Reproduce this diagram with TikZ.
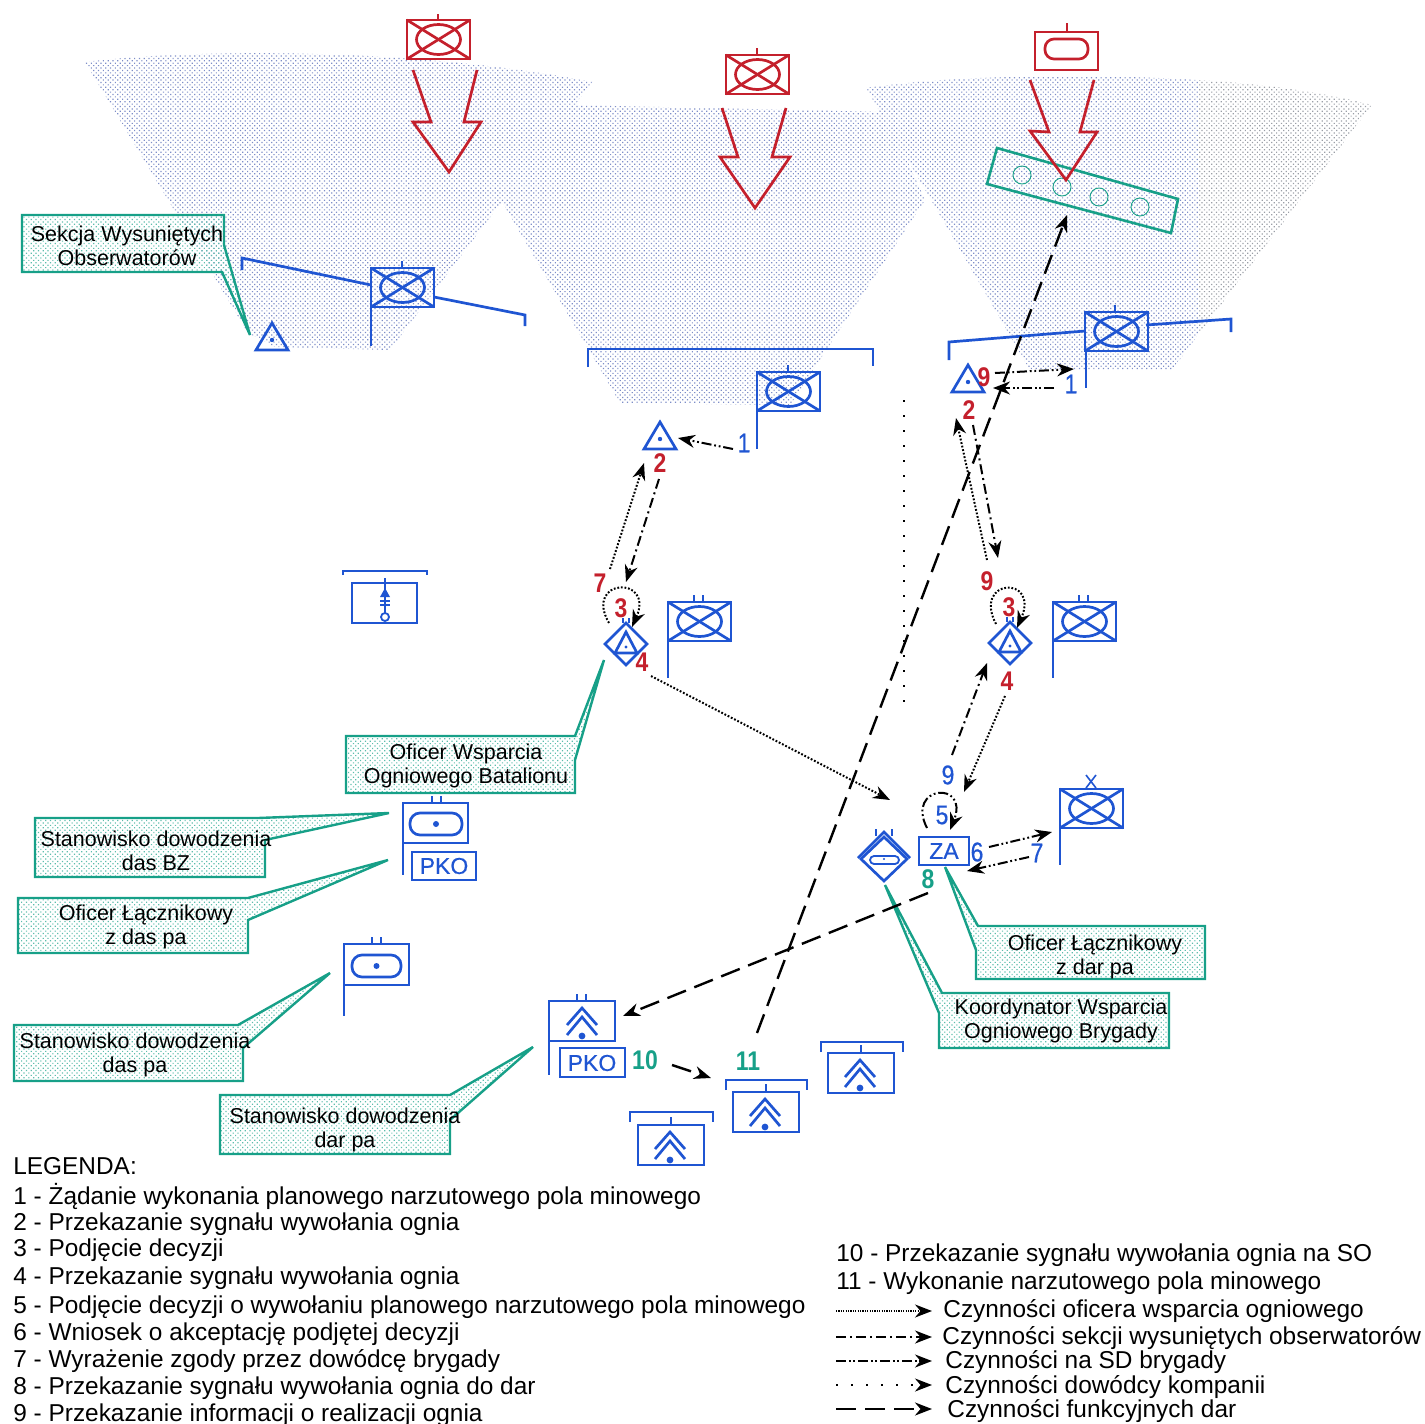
\documentclass[tikz,border=0pt]{standalone}
\usepackage{fontspec}
\setmainfont{Liberation Sans}
\newfontfamily\blueface[FakeBold=0.6]{Liberation Sans}
\usepackage{tikz}
\usetikzlibrary{arrows.meta,patterns.meta,positioning}

\definecolor{SymBlue}{HTML}{1F55D2}
\definecolor{SymRed}{HTML}{C4202C}
\definecolor{SymTeal}{HTML}{17A088}
\definecolor{ShadeBlue}{HTML}{7E8EC8}
\definecolor{ShadeGray}{HTML}{9A9EA6}

% box with the crossed ellipse
\newcommand{\TankBox}[2]{
	\draw (#1,#2) rectangle +(63,39);
	\draw (#1,#2) -- +(63,39);
	\draw (#1,#2) ++(63,0) -- +(-63,39);
	\draw (#1,#2) ++(31.5,19.5) ellipse [x radius=22, y radius=15];
}
% two short stems on top of a box
\newcommand{\TwoStem}[2]{
	\draw (#1,#2) -- +(0,-7);
	\draw (#1,#2) ++(9,0) -- +(0,-7);
}
\newcommand{\OvalDot}[4]{
	\draw [rounded corners=10*0.5pt] (#1,#2) rectangle (#3,#4);
	\fill ({(#1+#3)/2},{(#2+#4)/2}) circle [radius=3];
}
\newcommand{\ObsTri}[2]{
	\draw (#1,#2) -- +(16,27) -- +(-16,27) -- cycle;
	\fill (#1,#2) ++(0,17) circle [radius=2.2];
}
\newcommand{\ObsDia}[2]{
	\draw (#1,#2) ++(0,-21) -- ++(21,21) -- ++(-21,21) -- ++(-21,-21) -- cycle;
	\draw (#1,#2) ++(0,-12) -- +(11,21) -- +(-11,21) -- cycle;
	\fill (#1,#2) ++(0,3) circle [radius=1.6];
	\draw (#1,#2) ++(-3,-21) -- +(0,-5);
	\draw (#1,#2) ++(3,-21) -- +(0,-5);
}
\newcommand{\Chevrons}[2]{
	\draw (#1,#2) ++(-15,24) -- +(15,-17) -- +(30,0);
	\draw (#1,#2) ++(-15,34) -- +(15,-18) -- +(30,0);
	\fill (#1,#2) ++(0,35) circle [radius=3.4];
}
\newcommand{\GunBox}[3]{
	\draw (#1,#2) rectangle +(66,40);
	\Chevrons{#3}{#2}
}

\begin{document}
\begin{tikzpicture}[x=0.5pt, y=-0.5pt]
		\tikzstyle{Sym}		= [color=SymBlue, line width=1.35pt]
		\tikzstyle{Foe}		= [color=SymRed, line width=1.35pt]
		\tikzstyle{Call}	= [draw=SymTeal, line width=1.2pt, pattern={Dots[distance=1.7pt, radius=0.42pt, angle=45]}, pattern color=SymTeal!70]
		\tikzstyle{CallTxt}	= [align=center, inner sep=0pt, font=\fontsize{10.75}{12.2}\selectfont]
		\tikzstyle{Num}		= [inner sep=0pt, font=\fontsize{13.5}{14}\selectfont, xscale=0.85, transform shape]
		\tikzstyle{RedNum}	= [Num, text=SymRed, font=\fontsize{13.5}{14}\selectfont\bfseries]
		\tikzstyle{BlueNum}	= [Num, text=SymBlue, font=\fontsize{13.5}{14}\selectfont\blueface]
		\tikzstyle{TealNum}	= [Num, text=SymTeal, font=\fontsize{13.5}{14}\selectfont\bfseries]
		\tikzstyle{Leg}		= [anchor=west, inner sep=0pt, yshift=-1pt, text height=9pt, text depth=3pt, font=\fontsize{12.2}{13}\selectfont]
		\tikzstyle{Tag}		= [inner sep=0pt, text=SymBlue, font=\fontsize{11.5}{12}\selectfont\blueface]
		\tikzstyle{Act}		= [line width=1pt, -{Stealth[length=8.5pt, width=6.5pt]}]
		\tikzstyle{OW}		= [Act, dash pattern=on 0.9pt off 0.9pt]
		\tikzstyle{SO}		= [Act, dash pattern=on 5pt off 2pt on 1pt off 2pt]
		\tikzstyle{SD}		= [Act, dash pattern=on 5pt off 1.4pt on 0.9pt off 1.4pt on 0.9pt off 1.4pt]
		\tikzstyle{DK}		= [Act, line width=1pt, dash pattern=on 1pt off 6.5pt]
		\tikzstyle{DF}		= [Act, line width=1.2pt, dash pattern=on 10pt off 4.5pt]

		\useasboundingbox (0,0) rectangle (1425,1424);

		% shaded sectors
		\fill [pattern={Dots[distance=1.7pt, radius=0.42pt, angle=45]}, pattern color=ShadeBlue]
			(85,62) .. controls (200,48) and (420,48) .. (592,82) -- (390,350) -- (275,347) -- (248,333) -- cycle
			(505,207) -- (500,200) -- (570,105) -- (885,112) -- (925,200) -- (790,405) -- (620,403) -- cycle
			(866,88) .. controls (960,74) and (1100,74) .. (1198,80) -- (1198,335) -- (1172,370) -- (1030,370) -- cycle;
		\fill [pattern={Dots[distance=1.7pt, radius=0.42pt, angle=45]}, pattern color=ShadeGray]
			(1198,80) .. controls (1270,84) and (1330,94) .. (1372,105) -- (1198,335) -- cycle;

		% red units
		\begin{scope}[Foe]
			\TankBox{407}{20}
			\draw (438,20) -- (438,14);
			\draw (413,70) -- (431,122) -- (413,122) -- (449,172) -- (481,122) -- (464,122) -- (477,70);
			\TankBox{726}{55}
			\draw (757,55) -- (757,48);
			\draw (722,108) -- (738,157) -- (720,157) -- (755,208) -- (790,157) -- (772,157) -- (786,108);
			\draw (1035,32) rectangle (1098,70);
			\draw (1067,32) -- (1067,23);
			\draw [rounded corners=4.5pt] (1045,39) rectangle (1088,59);
		\end{scope}

		% minefield
		\begin{scope}[color=SymTeal]
			\draw [line width=1.3pt] (997,148) -- (1178,199) -- (1171,233) -- (987,184) -- cycle;
			\draw [line width=0.45pt] (1022,175) circle [radius=9];
			\draw [line width=0.45pt] (1062,187) circle [radius=9];
			\draw [line width=0.45pt] (1099,197) circle [radius=9];
			\draw [line width=0.45pt] (1140,207) circle [radius=9];
		\end{scope}
		\draw [Foe] (1030,80) -- (1049,132) -- (1030,131) -- (1066,180) -- (1097,132) -- (1080,132) -- (1094,80);

		% blue units
		\begin{scope}[Sym]
			\TankBox{371}{268}
			\draw (402,268) -- (402,261);
			\draw (371,307) -- (371,346);
			\draw (242,270) -- (242,258) -- (371,285);
			\draw (434,297) -- (525,315) -- (525,326);

			\TankBox{757}{372}
			\draw (788,372) -- (788,365);
			\draw (757,411) -- (757,449);
			\draw (588,367) -- (588,349) -- (873,349) -- (873,366);

			\TankBox{1085}{312}
			\draw (1115,312) -- (1115,305);
			\draw (1086,351) -- (1086,388);
			\draw (949,360) -- (949,342) -- (1085,331);
			\draw (1146,325) -- (1231,319) -- (1231,332);

			\TankBox{668}{602}
			\TwoStem{694}{602}
			\draw (668,641) -- (668,678);
			\TankBox{1053}{602}
			\TwoStem{1079}{602}
			\draw (1053,641) -- (1053,678);
			\TankBox{1060}{789}
			\draw (1060,828) -- (1060,865);
			\draw [line width=0.8pt] (1086,775) -- (1096,788) (1096,775) -- (1086,788);

			\ObsTri{272}{323}
			\ObsTri{660}{422}
			\ObsTri{968}{365}
			\ObsDia{626}{644}
			\ObsDia{1010}{643}

			% brigade fire support post
			\draw (884,837) -- (907,859) -- (884,881) -- (861,859) -- cycle;
			\draw (858,858) -- (884,832) -- (910,858);
			\draw [line width=0.9pt] (876,829) -- (876,836) (892,829) -- (892,836);
			\draw [line width=0.9pt, rounded corners=2pt] (870,856) rectangle (899,864);
			\fill (884,859) circle [radius=1.2];
			\draw (919,837) rectangle (969,865);

			% command posts
			\draw (403,803) rectangle (468,843);
			\TwoStem{432}{803}
			\draw (403,843) -- (403,875);
			\OvalDot{410}{813}{462}{835}
			\draw (412,852) rectangle (476,880);

			\draw (344,944) rectangle (409,985);
			\TwoStem{372}{944}
			\draw (344,985) -- (344,1016);
			\OvalDot{352}{955}{401}{977}

			% mortar
			\draw (343,575) -- (343,571) -- (427,571) -- (427,575);
			\draw (352,583) rectangle (417,623);
			\draw [line width=0.9pt] (385,578) -- (385,613);
			\fill (385,588) -- (390,597) -- (380,597) -- cycle;
			\draw [line width=0.9pt] (380,601) -- (390,601) (380,605) -- (390,605);
			\draw [line width=0.9pt] (385,617) circle [radius=4];

			% fire units
			\GunBox{549}{1001}{582}
			\TwoStem{577}{1001}
			\draw (549,1041) -- (549,1075);
			\draw (560,1048) rectangle (625,1077);
			\GunBox{733}{1092}{765}
			\draw (766,1092) -- (766,1084);
			\draw (726,1090) -- (726,1080) -- (807,1080) -- (807,1090);
			\GunBox{828}{1053}{860}
			\draw (861,1053) -- (861,1045);
			\draw (821,1052) -- (821,1042) -- (903,1042) -- (903,1052);
			\GunBox{638}{1125}{670}
			\draw (671,1125) -- (671,1117);
			\draw (630,1122) -- (630,1112) -- (713,1112) -- (713,1122);
		\end{scope}
		\node (za) at (944,851) [Tag] {ZA};
		\node (pko1) at (444,866) [Tag] {PKO};
		\node (pko2) at (592,1063) [Tag] {PKO};

		% callouts
		\draw [Call] (22,215) -- (224,215) -- (224,245) -- (250,335) -- (222,272) -- (22,272) -- cycle;
		\draw [Call] (346,736) -- (575,736) -- (604,660) -- (575,760) -- (575,793) -- (346,793) -- cycle;
		\draw [Call] (35,818) -- (258,818) -- (389,813) -- (265,840) -- (265,877) -- (35,877) -- cycle;
		\draw [Call] (18,898) -- (248,898) -- (388,860) -- (248,920) -- (248,953) -- (18,953) -- cycle;
		\draw [Call] (14,1025) -- (238,1025) -- (330,973) -- (243,1048) -- (243,1081) -- (14,1081) -- cycle;
		\draw [Call] (220,1095) -- (450,1095) -- (533,1047) -- (450,1120) -- (450,1154) -- (220,1154) -- cycle;
		\draw [Call] (945,867) -- (978,926) -- (1205,926) -- (1205,979) -- (976,979) -- (976,950) -- cycle;
		\draw [Call] (885,885) -- (942,993) -- (1169,993) -- (1169,1048) -- (939,1048) -- (939,1013) -- cycle;
		\node (swo) at (127,246) [CallTxt] {Sekcja Wysuniętych\\Obserwatorów};
		\node (owb) at (466,766) [CallTxt] {Oficer Wsparcia\\Ogniowego Batalionu};
		\node (sdb) at (156,851) [CallTxt] {Stanowisko dowodzenia\\das BZ};
		\node (olp) at (146,927) [CallTxt] {Oficer Łącznikowy\\z das pa};
		\node (sdp) at (135,1055) [CallTxt] {Stanowisko dowodzenia\\das pa};
		\node (sdd) at (345,1130) [CallTxt] {Stanowisko dowodzenia\\dar pa};
		\node (old) at (1095,957) [CallTxt] {Oficer Łącznikowy\\z dar pa};
		\node (kwb) at (1061,1021) [CallTxt] {Koordynator Wsparcia\\Ogniowego Brygady};

		% step numbers
		\node (n1) at (744,443) [BlueNum] {1};
		\node (n2) at (660,463) [RedNum] {2};
		\node (n3) at (600,583) [RedNum] {7};
		\node (n4) at (621,608) [RedNum] {3};
		\node (n5) at (642,662) [RedNum] {4};
		\node (n6) at (984,377) [RedNum] {9};
		\node (n7) at (1071,384) [BlueNum] {1};
		\node (n8) at (969,410) [RedNum] {2};
		\node (n9) at (987,581) [RedNum] {9};
		\node (n10) at (1009,607) [RedNum] {3};
		\node (n11) at (1007,681) [RedNum] {4};
		\node (n12) at (948,775) [BlueNum] {9};
		\node (n13) at (942,815) [BlueNum] {5};
		\node (n14) at (977,852) [BlueNum] {6};
		\node (n15) at (1037,853) [BlueNum] {7};
		\node (n16) at (928,879) [TealNum] {8};
		\node (n17) at (645,1060) [TealNum] {10};
		\node (n18) at (748,1061) [TealNum] {11};

		% connector ends
		\coordinate (a1) at (733,449);		\coordinate (a2) at (678,438);
		\coordinate (b1) at (610,569);		\coordinate (b2) at (644,463);
		\coordinate (c1) at (659,479);		\coordinate (c2) at (626,582);
		\coordinate (d1) at (609,623);		\coordinate (d2) at (632,627);
		\coordinate (e1) at (996,624);		\coordinate (e2) at (1017,628);
		\coordinate (f1) at (987,560);		\coordinate (f2) at (956,418);
		\coordinate (g1) at (973,425);		\coordinate (g2) at (998,558);
		\coordinate (h1) at (995,373);		\coordinate (h2) at (1074,369);
		\coordinate (i1) at (1054,388);		\coordinate (i2) at (993,388);
		\coordinate (j1) at (651,676);		\coordinate (j2) at (890,800);
		\coordinate (k1) at (757,1033);		\coordinate (k2) at (1067,215);
		\coordinate (l1) at (928,893);		\coordinate (l2) at (623,1016);
		\coordinate (m1) at (672,1065);		\coordinate (m2) at (711,1078);
		\coordinate (o1) at (952,755);		\coordinate (o2) at (987,663);
		\coordinate (p1) at (1005,696);		\coordinate (p2) at (964,792);
		\coordinate (q1) at (927,828);		\coordinate (q2) at (950,830);
		\coordinate (r1) at (989,847);		\coordinate (r2) at (1052,832);
		\coordinate (s1) at (1029,857);		\coordinate (s2) at (967,871);
		\coordinate (t1) at (904,400);		\coordinate (t2) at (904,705);

		\draw [SD] (a1) to (a2);
		\draw [OW] (b1) to (b2);
		\draw [SO] (c1) to (c2);
		\draw [OW] (d1) .. controls (583,578) and (655,575) .. (d2);
		\draw [OW] (e1) .. controls (972,578) and (1040,575) .. (e2);
		\draw [OW] (f1) to (f2);
		\draw [SO] (g1) to (g2);
		\draw [SD] (h1) to (h2);
		\draw [SD] (i1) to (i2);
		\draw [OW] (j1) to (j2);
		\draw [DF] (k1) to (k2);
		\draw [DF] (l1) to (l2);
		\draw [DF] (m1) to (m2);
		\draw [SO] (o1) to (o2);
		\draw [OW] (p1) to (p2);
		\draw [SD] (q1) .. controls (905,785) and (970,780) .. (q2);
		\draw [SD] (r1) to (r2);
		\draw [SD] (s1) to (s2);
		\draw [line width=1pt, dash pattern=on 1pt off 6.5pt] (t1) to (t2);

		% legend
		\node (lg0) at (13,1166) [Leg] {LEGENDA:};
		\node (lg1) at (13,1196) [Leg] {1 - Żądanie wykonania planowego narzutowego pola minowego};
		\node (lg2) at (13,1222) [Leg] {2 - Przekazanie sygnału wywołania ognia};
		\node (lg3) at (13,1248) [Leg] {3 - Podjęcie decyzji};
		\node (lg4) at (13,1276) [Leg] {4 - Przekazanie sygnału wywołania ognia};
		\node (lg5) at (13,1305) [Leg] {5 - Podjęcie decyzji o wywołaniu planowego narzutowego pola minowego};
		\node (lg6) at (13,1332) [Leg] {6 - Wniosek o akceptację podjętej decyzji};
		\node (lg7) at (13,1359) [Leg] {7 - Wyrażenie zgody przez dowódcę brygady};
		\node (lg8) at (13,1386) [Leg] {8 - Przekazanie sygnału wywołania ognia do dar};
		\node (lg9) at (13,1413) [Leg] {9 - Przekazanie informacji o realizacji ognia};
		\node (lg10) at (836,1253) [Leg] {10 - Przekazanie sygnału wywołania ognia na SO};
		\node (lg11) at (836,1281) [Leg] {11 - Wykonanie narzutowego pola minowego};
		\node (kw1) at (943,1309) [Leg] {Czynności oficera wsparcia ogniowego};
		\node (kw2) at (942,1336) [Leg] {Czynności sekcji wysuniętych obserwatorów};
		\node (kw3) at (945,1360) [Leg] {Czynności na SD brygady};
		\node (kw4) at (945,1385) [Leg] {Czynności dowódcy kompanii};
		\node (kw5) at (947,1409) [Leg] {Czynności funkcyjnych dar};

		\coordinate (u1) at (836,1311);		\coordinate (u2) at (932,1311);
		\coordinate (v1) at (836,1337);		\coordinate (v2) at (932,1337);
		\coordinate (w1) at (836,1361);		\coordinate (w2) at (932,1361);
		\coordinate (y1) at (836,1385);		\coordinate (y2) at (932,1385);
		\coordinate (z1) at (836,1409);		\coordinate (z2) at (932,1409);
		\draw [OW, dash pattern=on 0.6pt off 0.6pt] (u1) to (u2);
		\draw [SO] (v1) to (v2);
		\draw [SD] (w1) to (w2);
		\draw [DK] (y1) to (y2);
		\draw [DF] (z1) to (z2);
	\end{tikzpicture}
\end{document}
